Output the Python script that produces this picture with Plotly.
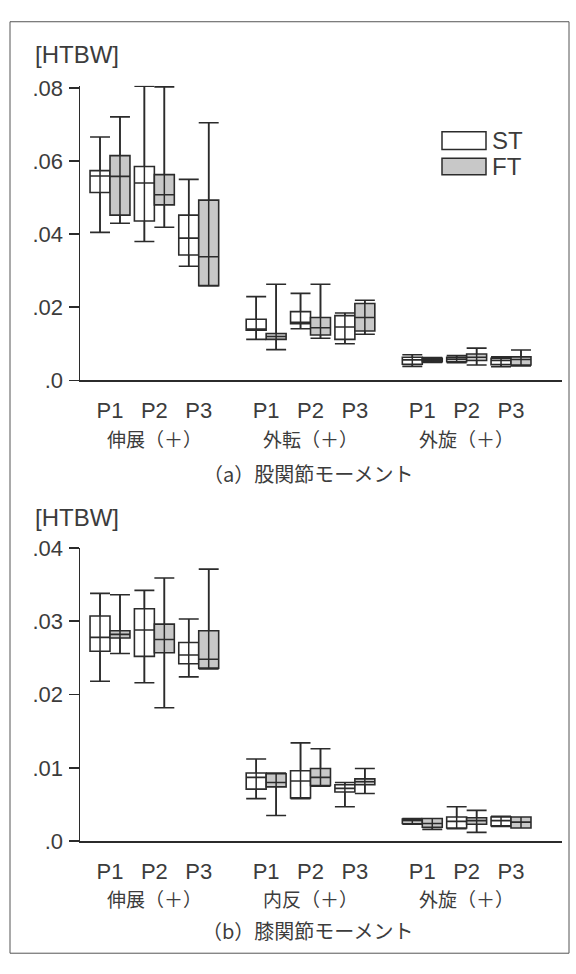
import plotly.graph_objects as go

# ---------------- data ----------------
periods = ["P1", "P2", "P3"]
hip_motions = ["伸展（＋）", "外転（＋）", "外旋（＋）"]
knee_motions = ["伸展（＋）", "内反（＋）", "外旋（＋）"]
y_ticks_hip = [0, 0.02, 0.04, 0.06, 0.08]
y_ticklabels_hip = [".0", ".02", ".04", ".06", ".08"]
y_ticks_knee = [0, 0.01, 0.02, 0.03, 0.04]
y_ticklabels_knee = [".0", ".01", ".02", ".03", ".04"]

# order: motion1 P1,P2,P3, motion2 P1,P2,P3, motion3 P1,P2,P3
hip_st_low = [0.0405, 0.0380, 0.0312, 0.0112, 0.0141, 0.0100, 0.0038, 0.0048, 0.0037]
hip_st_q1  = [0.0514, 0.0436, 0.0343, 0.0137, 0.0155, 0.0112, 0.0044, 0.0051, 0.0043]
hip_st_med = [0.0559, 0.0540, 0.0389, 0.0140, 0.0159, 0.0146, 0.0056, 0.0058, 0.0054]
hip_st_q3  = [0.0574, 0.0585, 0.0452, 0.0167, 0.0188, 0.0177, 0.0063, 0.0063, 0.0060]
hip_st_up  = [0.0666, 0.0805, 0.0550, 0.0229, 0.0238, 0.0184, 0.0070, 0.0068, 0.0064]

hip_ft_low = [0.0430, 0.0419, 0.0258, 0.0084, 0.0115, 0.0126, 0.0049, 0.0042, 0.0039]
hip_ft_q1  = [0.0452, 0.0480, 0.0259, 0.0112, 0.0124, 0.0135, 0.0051, 0.0054, 0.0042]
hip_ft_med = [0.0558, 0.0508, 0.0338, 0.0120, 0.0144, 0.0172, 0.0056, 0.0063, 0.0057]
hip_ft_q3  = [0.0615, 0.0563, 0.0493, 0.0128, 0.0172, 0.0210, 0.0060, 0.0072, 0.0064]
hip_ft_up  = [0.0721, 0.0803, 0.0705, 0.0263, 0.0263, 0.0219, 0.0062, 0.0088, 0.0083]

knee_st_low = [0.0218, 0.0216, 0.0224, 0.0058, 0.0058, 0.0047, 0.0023, 0.0017, 0.0020]
knee_st_q1  = [0.0259, 0.0252, 0.0242, 0.0071, 0.0059, 0.0067, 0.0024, 0.0018, 0.0021]
knee_st_med = [0.0278, 0.0288, 0.0254, 0.0087, 0.0082, 0.0072, 0.0028, 0.0027, 0.0028]
knee_st_q3  = [0.0307, 0.0317, 0.0271, 0.0093, 0.0096, 0.0077, 0.0030, 0.0033, 0.0033]
knee_st_up  = [0.0338, 0.0342, 0.0303, 0.0112, 0.0134, 0.0080, 0.0031, 0.0047, 0.0034]

knee_ft_low = [0.0256, 0.0182, 0.0235, 0.0035, 0.0075, 0.0065, 0.0016, 0.0012, 0.0018]
knee_ft_q1  = [0.0277, 0.0257, 0.0236, 0.0074, 0.0076, 0.0077, 0.0019, 0.0023, 0.0018]
knee_ft_med = [0.0282, 0.0275, 0.0248, 0.0080, 0.0087, 0.0081, 0.0024, 0.0028, 0.0026]
knee_ft_q3  = [0.0287, 0.0296, 0.0287, 0.0092, 0.0099, 0.0085, 0.0031, 0.0032, 0.0033]
knee_ft_up  = [0.0336, 0.0359, 0.0371, 0.0093, 0.0126, 0.0099, 0.0031, 0.0042, 0.0033]

# ---------------- style / layout helpers ----------------
W, H = 576, 974
LAT = "Liberation Sans, Arial, Noto Sans CJK JP, sans-serif"
CJK = "Noto Sans CJK JP, Noto Sans, sans-serif"
TXT = "#3c3c3c"
LINE = "#2b2b2b"
ST_FILL = "#ffffff"
FT_FILL = "#c8c8c8"

GROUP_STEP = 3.52
positions = [g * GROUP_STEP + p for g in range(3) for p in range(3)]
group_centers = [g * GROUP_STEP + 1 for g in range(3)]
HALF = 0.225
BOXW = 0.45

PX_PER_UNIT = 44.36
X0_PX = 110


def xr(px):
    return (px - X0_PX) / PX_PER_UNIT


def px_x(p):
    return p / W


def px_y(p):
    return 1 - p / H


fig = go.Figure()


def add_panel(xa, ya, st, ft):
    for stats, fill, off in ((st, ST_FILL, -HALF), (ft, FT_FILL, HALF)):
        low, q1, med, q3, up = stats
        xs = [p + off for p in positions]
        fig.add_trace(go.Box(
            x=xs, q1=q1, median=med, q3=q3, lowerfence=low, upperfence=up,
            width=BOXW, whiskerwidth=1, fillcolor=fill,
            line=dict(color=LINE, width=1.6), boxpoints=False,
            hoverinfo="skip", showlegend=False, xaxis=xa, yaxis=ya))
        lx, ly = [], []
        for x, a, b in zip(xs, low, up):
            lx += [x, x, None]
            ly += [a, b, None]
        fig.add_trace(go.Scatter(
            x=lx, y=ly, mode="lines", line=dict(color=LINE, width=1.5),
            hoverinfo="skip", showlegend=False, xaxis=xa, yaxis=ya))


add_panel("x", "y",
          (hip_st_low, hip_st_q1, hip_st_med, hip_st_q3, hip_st_up),
          (hip_ft_low, hip_ft_q1, hip_ft_med, hip_ft_q3, hip_ft_up))
add_panel("x2", "y2",
          (knee_st_low, knee_st_q1, knee_st_med, knee_st_q3, knee_st_up),
          (knee_ft_low, knee_ft_q1, knee_ft_med, knee_ft_q3, knee_ft_up))

X_LEFT, X_RIGHT = 80, 562
xrange = [xr(X_LEFT), xr(X_RIGHT)]

common_x = dict(
    range=xrange, domain=[px_x(X_LEFT), px_x(X_RIGHT)],
    tickmode="array", tickvals=positions, ticktext=periods * 3,
    ticks="", showline=True, linecolor=LINE, linewidth=1.5,
    showgrid=False, zeroline=False, fixedrange=True,
    tickfont=dict(size=22, color=TXT, family=LAT), ticklabelstandoff=10,
)
common_y = dict(
    ticks="outside", ticklen=10, tickwidth=1.5, tickcolor=LINE,
    showline=True, linecolor=LINE, linewidth=1.5,
    showgrid=False, zeroline=False, fixedrange=True,
    tickfont=dict(size=22, color=TXT, family=LAT), ticklabelstandoff=1,
)

HIP_ZERO, HIP_SCALE, HIP_TOP = 378, 3750.0, 0.0806
KNEE_ZERO, KNEE_SCALE, KNEE_TOP = 851, 7525.0, 0.040

fig.update_layout(
    width=W, height=H, margin=dict(l=0, r=0, t=0, b=0),
    paper_bgcolor="white", plot_bgcolor="white",
    font=dict(family=LAT, color=TXT, size=20),
    boxmode="overlay",
    xaxis=dict(anchor="y", **common_x),
    yaxis=dict(anchor="x", range=[0, HIP_TOP],
               domain=[px_y(HIP_ZERO), px_y(HIP_ZERO - HIP_TOP * HIP_SCALE)],
               tickvals=y_ticks_hip, ticktext=y_ticklabels_hip, **common_y),
    xaxis2=dict(anchor="y2", **common_x),
    yaxis2=dict(anchor="x2", range=[0, KNEE_TOP],
                domain=[px_y(KNEE_ZERO), px_y(KNEE_ZERO - KNEE_TOP * KNEE_SCALE)],
                tickvals=y_ticks_knee, ticktext=y_ticklabels_knee, **common_y),
)

ann = []
for motions, xref, ypx in ((hip_motions, "x", 438), (knee_motions, "x2", 910)):
    for m, c in zip(motions, group_centers):
        ann.append(dict(text=m, x=c, xref=xref, y=px_y(ypx), yref="paper",
                        showarrow=False, xanchor="center", yanchor="middle",
                        font=dict(size=19, color=TXT, family=CJK)))
for t, ypx in (("（a）股関節モーメント", 474), ("（b）膝関節モーメント", 943)):
    ann.append(dict(text=t, x=px_x(308), xref="paper", y=px_y(ypx), yref="paper",
                    showarrow=False, xanchor="center", yanchor="middle",
                    font=dict(size=20, color=TXT, family=CJK)))
for ypx in (44, 519):
    ann.append(dict(text="[HTBW]", x=px_x(33), xref="paper", y=px_y(ypx), yref="paper",
                    showarrow=False, xanchor="left", yanchor="middle",
                    font=dict(size=24, color=TXT, family=LAT)))
for t, ypx in (("ST", 132), ("FT", 159)):
    ann.append(dict(text=t, x=px_x(490), xref="paper", y=px_y(ypx), yref="paper",
                    showarrow=False, xanchor="left", yanchor="middle",
                    font=dict(size=24, color=TXT, family=LAT)))
fig.update_layout(annotations=ann)

shapes = [
    dict(type="rect", xref="paper", yref="paper",
         x0=px_x(10), x1=px_x(569), y0=px_y(966), y1=px_y(10),
         line=dict(color="#555555", width=1), fillcolor="rgba(0,0,0,0)", layer="below"),
    dict(type="rect", xref="paper", yref="paper",
         x0=px_x(442), x1=px_x(486), y0=px_y(141), y1=px_y(123),
         line=dict(color=LINE, width=1.5), fillcolor=ST_FILL),
    dict(type="rect", xref="paper", yref="paper",
         x0=px_x(442), x1=px_x(486), y0=px_y(167), y1=px_y(150),
         line=dict(color=LINE, width=1.5), fillcolor=FT_FILL),
]
fig.update_layout(shapes=shapes)

fig.write_html("out.html",
               config={"displayModeBar": False, "staticPlot": True},
               post_script="document.body.style.margin='0px';")
